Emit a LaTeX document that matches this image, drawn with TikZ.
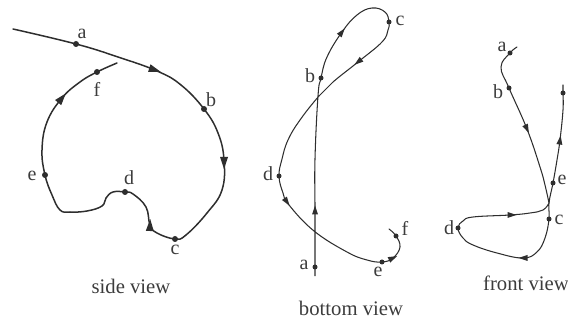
\documentclass[tikz,border=0pt]{standalone}
\usepackage{fontspec}
\setmainfont{Liberation Serif}
\definecolor{ink}{HTML}{2E2E2E}
\definecolor{txt}{HTML}{3C3C3C}
\tikzset{
  curveA/.style={draw=ink,line width=1.5pt,line cap=round,line join=round},
  curveB/.style={draw=ink,line width=1.05pt,line cap=round,line join=round},
  dotA/.style={circle,fill=ink,inner sep=0pt,minimum size=6pt},
  dotB/.style={circle,fill=ink,inner sep=0pt,minimum size=5pt},
  lab/.style={text=txt,inner sep=0pt,font=\fontsize{20}{20}\selectfont},
  captext/.style={text=txt,inner sep=0pt,font=\fontsize{20.7}{21}\selectfont},
  tipA/.pic={\fill[ink] (6pt,0pt)--(-6pt,4pt)--(-6pt,-4pt)--cycle;},
  tipB/.pic={\fill[ink] (4.5pt,0pt)--(-4.5pt,3pt)--(-4.5pt,-3pt)--cycle;}
}
\begin{document}
\begin{tikzpicture}[x=1pt,y=-1pt]
\useasboundingbox (0,0) rectangle (568,320);
% side view
\node[dotA] (sa) at (76,44) {};
\node[dotA] (sb) at (204,109) {};
\node[dotA] (sc) at (175,239) {};
\node[dotA] (sd) at (125,192) {};
\node[dotA] (se) at (45,175) {};
\node[dotA] (sf) at (97,72) {};
\path[curveA] plot[smooth,tension=0.7] coordinates {(13,29) (sa.center) (118,57) (157,71) (181,85) (sb.center) (218,133) (224,160) (222,190) (207,213) (186,235) (sc.center) (157,233) (150,225) (146,207) (133,194) (sd.center) (113,192) (106,198) (102,206) (87,211) (70,212) (60,210) (52,195) (se.center) (42,150) (47,122) (62,98) (80,82) (sf.center) (117,63)};
\pic[rotate=-18] at (155,70) {tipA};
\pic[rotate=-90] at (224,163) {tipA};
\pic[rotate=88] at (150,225) {tipA};
\pic[rotate=50] at (62,98) {tipA};
\node[lab] at (82,34) {a};
\node[lab] at (211,100) {b};
\node[lab] at (175,250) {c};
\node[lab] at (129,178) {d};
\node[lab] at (32,176) {e};
\node[lab] at (97,89) {f};
\node[captext] at (131,286) {side view};
% bottom view
\node[dotB] (ba) at (315,267) {};
\node[dotB] (bb) at (321,78) {};
\node[dotB] (bc) at (389,22) {};
\node[dotB] (bd) at (279,176) {};
\node[dotB] (be) at (382,262) {};
\node[dotB] (bf) at (396,236) {};
\path[curveB] plot[smooth,tension=0.7] coordinates {(315,275) (ba.center) (315,210) (315,159) (318,96) (bb.center) (327,57) (342,32) (357,15) (372,8) (385,12) (bc.center) (388,30) (382,42) (358,62) (333,82) (319,96) (300,120) (288,140) (282,159) (bd.center) (283,193) (289,205) (314,231) (347,252) (367,260) (be.center) (393,258) (400,247) (bf.center) (389,229)};
\pic[rotate=90] at (315,210) {tipB};
\pic[rotate=52] at (342,32) {tipB};
\pic[rotate=218] at (358,62) {tipB};
\pic[rotate=-55] at (287,202) {tipB};
\pic[rotate=25] at (393,258) {tipB};
\node[lab] at (304,265) {a};
\node[lab] at (310,76) {b};
\node[lab] at (400,21) {c};
\node[lab] at (268,174) {d};
\node[lab] at (378,272) {e};
\node[lab] at (405,228) {f};
\node[captext] at (351,308) {bottom view};
% front view
\node[dotB] (fa) at (510,53) {};
\node[dotB] (fb) at (509,88) {};
\node[dotB] (fc) at (549,219) {};
\node[dotB] (fd) at (458,228) {};
\node[dotB] (fe) at (553,183) {};
\node[dotB] (ff) at (563,93) {};
\coordinate (fj) at (549,203);
\path[curveB] plot[smooth,tension=0.7] coordinates {(517,47) (fa.center) (501,67) (fb.center) (527,129) (540,167) (545,185) (fj)};
\path[curveB] plot[smooth,tension=0.7] coordinates {(fj) (543,210) (530,213) (510,215) (473,217) (463,221) (fd.center) (463,238) (473,245) (497,253) (523,258) (537,252) (545,238) (fc.center) (fj) (fe.center) (557,160) (560,140) (563,110) (ff.center) (563,85)};
\pic[rotate=-65] at (527,129) {tipB};
\pic[rotate=0] at (512,215) {tipB};
\pic[rotate=180] at (523,258) {tipB};
\pic[rotate=82] at (560,140) {tipB};
\node[lab] at (502,47) {a};
\node[lab] at (498,92) {b};
\node[lab] at (562,180) {e};
\node[lab] at (559,220) {c};
\node[lab] at (449,228) {d};
\node[captext] at (526,283) {front view};
\end{tikzpicture}
\end{document}
